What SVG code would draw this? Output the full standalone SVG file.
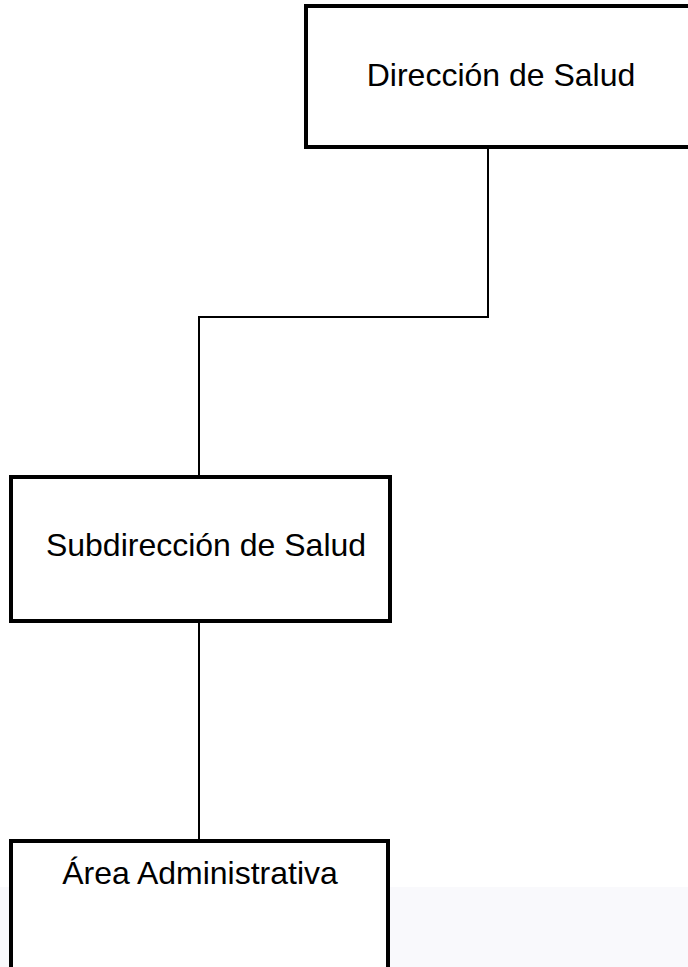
<svg xmlns="http://www.w3.org/2000/svg" width="688" height="967" viewBox="0 0 688 967">
<style>
.box{fill:#ffffff;stroke:#000000;stroke-width:4}
.lbl{font-family:"Liberation Sans",Arial,sans-serif;font-size:32px;fill:#000000;text-anchor:middle}
.conn{fill:none;stroke:#000000;stroke-width:2}
</style>
<rect x="0" y="0" width="688" height="967" fill="#ffffff"/>
<rect x="0" y="887" width="688" height="80" fill="#f9f9fc"/>
<g id="connectors">
<polyline class="conn" points="488,149 488,317 199,317 199,475"/>
<line class="conn" x1="199" y1="623" x2="199" y2="839"/>
</g>
<g id="node-direccion">
<rect class="box" x="306" y="6" width="400" height="141"/>
<text class="lbl" x="501" y="86">Dirección de Salud</text>
</g>
<g id="node-subdireccion">
<rect class="box" x="11" y="477" width="379" height="144"/>
<text class="lbl" x="206" y="556">Subdirección de Salud</text>
</g>
<g id="node-area-administrativa">
<rect class="box" x="11" y="841" width="377" height="140"/>
<text class="lbl" x="200" y="884">Área Administrativa</text>
</g>
</svg>
